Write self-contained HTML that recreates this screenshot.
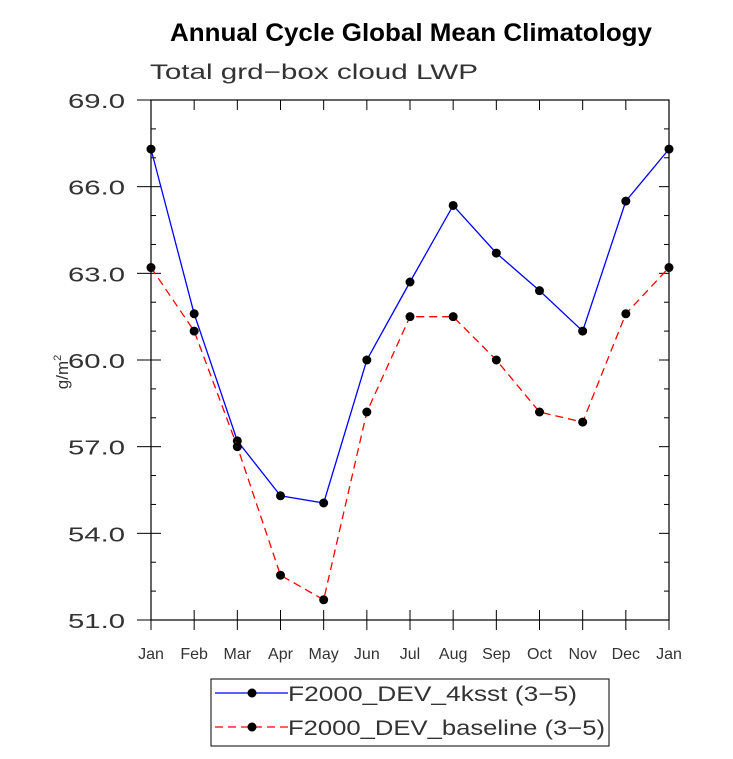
<!DOCTYPE html>
<html><head><meta charset="utf-8"><style>
body{margin:0;background:#fff;}
svg text{font-family:"Liberation Sans",sans-serif;}
</style></head><body>
<svg width="733" height="754" viewBox="0 0 733 754">
<text x="170" y="41" textLength="482" lengthAdjust="spacingAndGlyphs" font-size="25" font-weight="bold">Annual Cycle Global Mean Climatology</text>
<text x="150" y="79" textLength="328" lengthAdjust="spacingAndGlyphs" font-size="21" fill="#333">Total grd−box cloud LWP</text>
<text transform="translate(68,372) rotate(-90)" text-anchor="middle" font-size="17" fill="#333">g/m<tspan font-size="11" dy="-7">2</tspan></text>
<g id="axes"></g>
<g id="series"></g>
<rect x="211" y="679" width="398" height="67" fill="none" stroke="#000" stroke-width="1"/>
<g>
<line x1="215" y1="693" x2="288" y2="693" stroke="#0000ff" stroke-width="1.3"/>
<circle cx="252" cy="693" r="4.5" fill="#000"/>
<text x="288" y="701" textLength="289" lengthAdjust="spacingAndGlyphs" font-size="21" fill="#333">F2000_DEV_4ksst (3−5)</text></g>
<g>
<line x1="215" y1="727" x2="288" y2="727" stroke="#ff0000" stroke-width="1.3" stroke-dasharray="8,5"/>
<circle cx="252" cy="727" r="4.5" fill="#000"/>
<text x="288" y="735" textLength="317" lengthAdjust="spacingAndGlyphs" font-size="21" fill="#333">F2000_DEV_baseline (3−5)</text></g>
</svg>
<script>
const months=["Jan","Feb","Mar","Apr","May","Jun","Jul","Aug","Sep","Oct","Nov","Dec","Jan"];
const yTicks=[51,54,57,60,63,66,69];
const seriesA=[67.3,61.6,57.2,55.3,55.05,60.0,62.7,65.35,63.7,62.4,61.0,65.5,67.3];
const seriesB=[63.2,61.0,57.0,52.55,51.7,58.2,61.5,61.5,60.0,58.2,57.85,61.6,63.2];
const NS="http://www.w3.org/2000/svg";
const L=151,R=669,T=100,B=620,ymin=51,ymax=69;
function xs(i){return L+i*(R-L)/(months.length-1);}
function ys(v){return B-(v-ymin)/(ymax-ymin)*(B-T);}
function mk(tag,at,parent){const e=document.createElementNS(NS,tag);for(const k in at)e.setAttribute(k,at[k]);parent.appendChild(e);return e;}
const ax=document.getElementById('axes');
const fr=mk('rect',{x:L,y:T,width:R-L,height:B-T,fill:'none',stroke:'#000','stroke-width':1.2},ax);


for(let v=ymin;v<=ymax;v+=1){
  const y=ys(v),len=(v-ymin)%3===0?10:5;
  mk('line',{x1:L,y1:y,x2:L+len,y2:y,stroke:'#000'},ax);
  mk('line',{x1:R,y1:y,x2:R-len,y2:y,stroke:'#000'},ax);
}
yTicks.forEach(v=>{
  const t=mk('text',{x:L-26,y:ys(v)+8,'text-anchor':'end','font-size':20,fill:'#333',textLength:57,lengthAdjust:'spacingAndGlyphs'},ax);
  t.textContent=v.toFixed(1);
  
  
  mk('line',{x1:L-14,y1:ys(v),x2:L,y2:ys(v),stroke:'#000'},ax);
});
months.forEach((m,i)=>{
  const x=xs(i);
  mk('line',{x1:x,y1:B,x2:x,y2:B-10,stroke:'#000'},ax);
  mk('line',{x1:x,y1:T,x2:x,y2:T+10,stroke:'#000'},ax);
  mk('line',{x1:x,y1:B,x2:x,y2:B+10,stroke:'#000'},ax);
  const t=mk('text',{x:x,y:B+39,'text-anchor':'middle','font-size':16,fill:'#333'},ax);
  t.textContent=m;
  
  
});
const sg=document.getElementById('series');
function draw(vals,color,dash,name){
  const p=mk('polyline',{points:vals.map((v,i)=>xs(i)+','+ys(v)).join(' '),fill:'none',stroke:color,'stroke-width':1.3,'stroke-dasharray':dash},sg);
  
  
  vals.forEach((v,i)=>{
    const c=mk('circle',{cx:xs(i),cy:ys(v),r:4.5,fill:'#000'},sg);
    
    
  });
}
draw(seriesA,'#0000ff','none','series-4ksst');
draw(seriesB,'#ff0000','8,5','series-baseline');
</script>
</body></html>
